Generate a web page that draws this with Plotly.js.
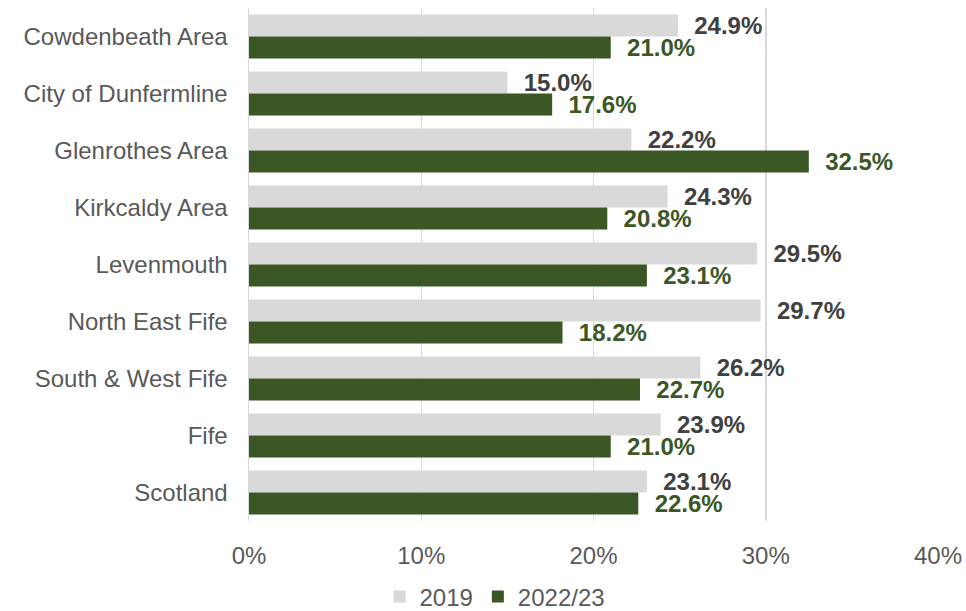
<!DOCTYPE html>
<html>
<head>
<meta charset="utf-8">
<script src="https://cdn.plot.ly/plotly-3.0.1.min.js"></script>
<style>html,body{margin:0;padding:0;background:#fff;}#chart{width:966px;height:611px;}</style>
</head>
<body>
<div id="chart"></div>
<script>
const categories = ["Cowdenbeath Area", "City of Dunfermline", "Glenrothes Area", "Kirkcaldy Area", "Levenmouth", "North East Fife", "South & West Fife", "Fife", "Scotland"];
const values2019 = [24.9, 15.0, 22.2, 24.3, 29.5, 29.7, 26.2, 23.9, 23.1];
const values2022 = [21.0, 17.6, 32.5, 20.8, 23.1, 18.2, 22.7, 21.0, 22.6];
const xTicks = [0, 10, 20, 30, 40];
const xTickLabels = ["0%", "10%", "20%", "30%", "40%"];

const font = "Liberation Sans, Arial, sans-serif";
const pad = "\u00a0\u00a0";
const traces = [
  {
    type: "bar", orientation: "h", name: "2019",
    y: categories, x: values2019,
    marker: {color: "#d9d9d9"},
    text: values2019.map(v => pad + v.toFixed(1) + "%"),
    textposition: "outside", cliponaxis: false, constraintext: "none",
    textfont: {family: font, size: 24, color: "#404040", weight: "bold"},
    hoverinfo: "none"
  },
  {
    type: "bar", orientation: "h", name: "2022/23",
    y: categories, x: values2022,
    marker: {color: "#3b5726"},
    text: values2022.map(v => pad + v.toFixed(1) + "%"),
    textposition: "outside", cliponaxis: false, constraintext: "none",
    textfont: {family: font, size: 24, color: "#3b5726", weight: "bold"},
    hoverinfo: "none"
  }
];
const layout = {
  width: 966, height: 611,
  margin: {l: 249, r: 28, t: 8, b: 90, autoexpand: false},
  paper_bgcolor: "#ffffff", plot_bgcolor: "#ffffff",
  barmode: "group", bargap: 0.23, bargroupgap: 0,
  font: {family: font, size: 24, color: "#595959"},
  xaxis: {
    range: [0, 40], tickvals: xTicks, ticktext: xTickLabels,
    showgrid: true, gridcolor: "#d9d9d9", gridwidth: 1.5,
    zeroline: false, showline: false, automargin: false,
    ticks: "outside", ticklen: 13, tickcolor: "rgba(0,0,0,0)",
    tickfont: {family: font, size: 24, color: "#595959"}
  },
  yaxis: {
    autorange: "reversed", showgrid: false, zeroline: false,
    showline: true, linecolor: "#d9d9d9", linewidth: 1.5, automargin: false,
    ticks: "", ticklabelstandoff: 15,
    tickfont: {family: font, size: 24, color: "#595959"}
  },
  showlegend: true,
  legend: {
    orientation: "h", x: 0.357, xanchor: "center", y: -0.148, yanchor: "middle",
    font: {family: font, size: 24, color: "#595959"}, traceorder: "normal",
    itemwidth: 30
  }
};
Plotly.newPlot("chart", traces, layout, {displayModeBar: false, staticPlot: true});
</script>
</body>
</html>
